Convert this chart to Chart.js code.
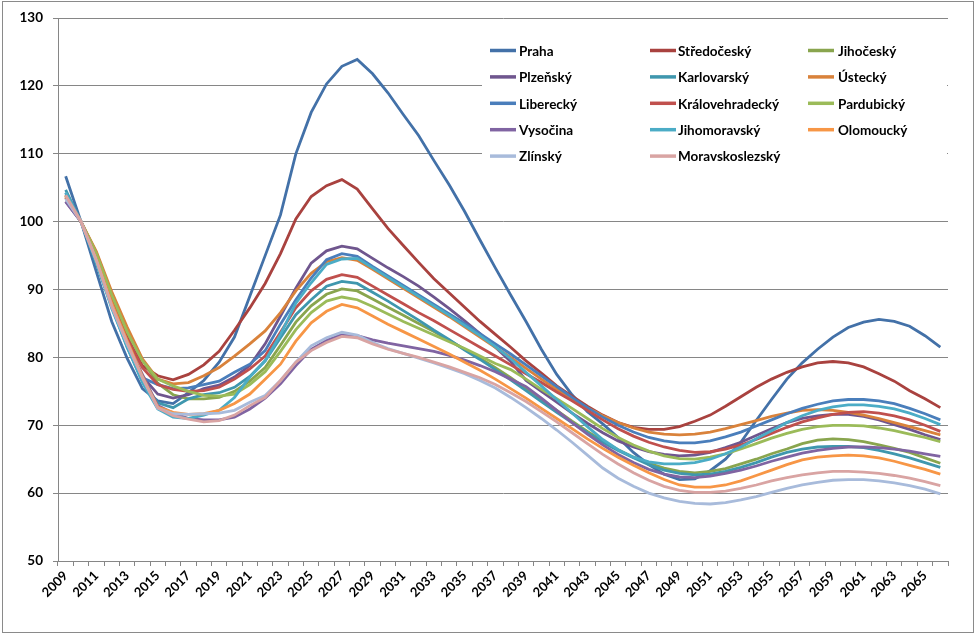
<!DOCTYPE html>
<html>
<head>
<meta charset="utf-8">
<script src="https://cdn.jsdelivr.net/npm/chart.js@4.4.1/dist/chart.umd.min.js"></script>
<style>
  html, body { margin: 0; padding: 0; background: #fff; }
  #chart { display: block; }
</style>
</head>
<body>
<canvas id="chart" width="980" height="635"></canvas>
<script>
// categories
const years = ['2009','2010','2011','2012','2013','2014','2015','2016','2017','2018',
  '2019','2020','2021','2022','2023','2024','2025','2026','2027','2028',
  '2029','2030','2031','2032','2033','2034','2035','2036','2037','2038',
  '2039','2040','2041','2042','2043','2044','2045','2046','2047','2048',
  '2049','2050','2051','2052','2053','2054','2055','2056','2057','2058',
  '2059','2060','2061','2062','2063','2064','2065','2066'];

const yTicks = [50, 60, 70, 80, 90, 100, 110, 120, 130];

// series values (2009 .. 2066)
const praha = [106.7,100,92.6,85.3,79.9,75.4,73.6,73.2,74.8,76.6,
  79.3,83.0,89.0,95.0,101.0,110.0,116.1,120.3,122.9,123.9,
  121.8,119.0,115.8,112.7,109.0,105.4,101.5,97.3,93.2,89.2,
  85.3,81.2,77.5,74.5,72.0,70.2,68.2,66.0,64.2,62.8,
  62.0,62.1,63.3,65.0,67.5,70.7,73.8,76.8,79.2,81.2,
  83.0,84.4,85.2,85.6,85.3,84.6,83.2,81.5];
const stredocesky = [103.6,100,94.8,88.5,83.0,78.8,77.3,76.7,77.5,78.9,
  80.9,84.0,87.3,90.9,95.3,100.4,103.7,105.3,106.2,104.8,
  101.9,99.0,96.5,94.0,91.6,89.5,87.4,85.3,83.4,81.5,
  79.5,77.7,75.8,74.3,72.8,71.5,70.4,69.7,69.4,69.4,
  69.8,70.6,71.5,72.8,74.2,75.6,76.8,77.8,78.6,79.2,
  79.4,79.2,78.6,77.6,76.5,75.1,73.9,72.6];
const jihocesky = [103.8,100,95.4,89.3,83.8,79.6,76.2,74.5,73.9,73.9,
  74.1,75.0,76.5,78.5,81.8,85.2,87.6,89.3,90.1,89.8,
  88.6,87.4,86.2,85.0,83.8,82.5,81.2,79.9,78.5,77.0,
  75.4,73.8,72.2,70.6,69.1,67.7,66.4,65.3,64.4,63.7,
  63.2,63.0,63.2,63.6,64.3,65.0,65.8,66.5,67.3,67.8,
  68.0,67.9,67.6,67.1,66.6,66.0,65.2,64.4];
const plzensky = [103.0,100,94.2,87.8,82.0,77.2,74.6,74.0,74.5,75.4,
  75.9,77.1,78.8,82.0,86.1,90.2,93.9,95.7,96.4,96.0,
  94.6,93.2,91.9,90.5,88.9,87.2,85.4,83.5,81.5,79.4,
  76.6,75.0,73.4,71.8,70.3,68.9,67.7,66.8,66.1,65.7,
  65.5,65.6,66.0,66.7,67.5,68.5,69.5,70.4,71.0,71.4,
  71.6,71.6,71.3,70.8,70.1,69.4,68.6,67.9];
const karlovarsky = [104.7,100,93.8,87.5,81.5,76.5,73.3,72.6,73.9,74.5,
  74.8,75.6,77.2,79.5,82.9,86.3,88.5,90.5,91.2,90.9,
  89.6,88.3,86.9,85.5,84.0,82.6,81.1,79.7,78.2,76.7,
  75.1,73.5,71.9,70.4,68.9,67.5,66.3,65.2,64.2,63.4,
  62.9,62.7,62.8,63.2,63.8,64.5,65.3,66.0,66.5,66.8,
  66.9,66.9,66.7,66.3,65.8,65.2,64.5,63.8];
const ustecky = [104.0,100,95.6,89.7,84.5,79.8,76.8,76.1,76.3,77.3,
  78.5,80.2,82.0,83.9,86.6,89.8,92.4,94.1,94.7,94.3,
  93.0,91.6,90.2,88.8,87.4,86.0,84.5,83.0,81.5,80.0,
  78.4,76.8,75.3,73.9,72.6,71.4,70.4,69.6,69.0,68.7,
  68.6,68.7,69.0,69.5,70.1,70.7,71.3,71.8,72.2,72.3,
  72.2,71.9,71.5,71.0,70.4,69.8,69.2,68.6];
const liberecky = [104.2,100,94.2,87.6,82.0,77.0,76.0,75.4,75.5,76.0,
  76.5,77.8,79.0,81.0,84.9,88.5,91.7,94.4,95.3,94.9,
  93.4,92.0,90.6,89.2,87.8,86.4,85.0,83.5,82.0,80.5,
  78.9,77.3,75.7,74.1,72.6,71.2,70.0,69.0,68.2,67.7,
  67.4,67.4,67.7,68.3,69.0,69.9,70.8,71.7,72.5,73.1,
  73.6,73.8,73.8,73.6,73.2,72.5,71.7,70.8];
const kralovehradecky = [103.6,100,94.7,88.5,82.8,78.5,76.0,75.3,75.0,75.1,
  75.6,76.8,78.3,80.2,83.7,87.3,89.8,91.5,92.2,91.8,
  90.5,89.2,87.9,86.6,85.4,84.1,82.8,81.5,80.2,78.9,
  77.6,76.3,74.9,73.6,72.2,70.8,69.5,68.4,67.5,66.8,
  66.3,66.0,66.1,66.5,67.1,67.9,68.8,69.7,70.5,71.1,
  71.6,71.9,72.0,71.8,71.4,70.8,70.0,69.1];
const pardubicky = [103.8,100,95.3,89.2,83.8,79.5,76.8,75.8,75.0,74.4,
  74.3,74.6,76.0,77.9,80.9,84.1,86.6,88.3,88.9,88.5,
  87.5,86.4,85.3,84.3,83.3,82.3,81.3,80.2,79.1,78.2,
  76.8,75.3,73.9,72.5,71.0,69.5,68.2,67.1,66.2,65.5,
  65.1,65.0,65.3,65.8,66.5,67.3,68.1,68.8,69.4,69.8,
  70.0,70.0,69.9,69.6,69.2,68.7,68.2,67.6];
const vysocina = [102.9,100,94.4,87.6,82.2,77.5,72.9,71.8,71.0,70.8,
  70.8,71.2,72.4,74.0,76.1,78.8,81.2,82.5,83.4,83.2,
  82.6,82.1,81.7,81.3,80.9,80.3,79.6,78.8,77.9,76.8,
  75.7,74.0,72.2,70.4,68.7,67.1,65.7,64.5,63.5,62.8,
  62.4,62.3,62.5,62.9,63.4,64.0,64.7,65.3,65.9,66.3,
  66.6,66.8,66.8,66.7,66.5,66.2,65.8,65.4];
const jihomoravsky = [104.3,100,94.0,87.2,81.6,76.3,72.4,71.2,71.0,71.5,
  72.2,74.1,77.1,79.5,83.4,88.0,91.0,93.7,94.5,94.6,
  93.2,91.8,90.4,89.0,87.6,86.2,84.7,83.2,81.6,79.8,
  77.8,75.8,73.8,71.8,69.8,67.9,66.4,65.3,64.6,64.3,
  64.3,64.5,65.0,65.8,66.8,68.0,69.2,70.4,71.4,72.2,
  72.7,73.0,73.0,72.8,72.4,71.8,71.0,70.1];
const olomoucky = [103.8,100,94.5,88.0,82.5,77.2,72.7,71.9,71.6,71.7,
  72.2,73.2,74.6,76.8,79.0,82.4,85.1,86.8,87.8,87.3,
  86.1,84.9,83.8,82.7,81.6,80.5,79.3,78.1,76.8,75.4,
  74.0,72.5,71.0,69.5,68.0,66.6,65.3,64.1,63.0,62.0,
  61.2,60.9,60.9,61.2,61.8,62.6,63.4,64.2,64.9,65.3,
  65.5,65.6,65.5,65.2,64.7,64.1,63.5,62.8];
const zlinsky = [103.4,100,94.3,87.5,82.0,77.0,72.5,71.7,71.6,71.7,
  71.8,72.2,73.4,74.4,76.6,79.3,81.7,82.9,83.7,83.3,
  82.2,81.3,80.6,79.9,79.2,78.4,77.6,76.6,75.5,74.1,
  72.6,71.0,69.3,67.5,65.6,63.7,62.2,61.0,60.0,59.3,
  58.8,58.5,58.4,58.6,59.0,59.5,60.1,60.7,61.2,61.6,
  61.9,62.0,62.0,61.8,61.5,61.1,60.6,59.9];
const moravskoslezsky = [103.9,100,94.3,87.6,82.2,77.0,72.6,71.4,70.9,70.5,
  70.7,71.5,72.9,74.1,76.6,79.3,81.0,82.2,83.1,82.9,
  82.0,81.2,80.6,80.0,79.3,78.6,77.8,77.0,76.0,74.8,
  73.5,72.0,70.5,68.9,67.3,65.7,64.3,63.0,61.9,61.0,
  60.4,60.1,60.1,60.3,60.7,61.2,61.8,62.3,62.7,63.0,
  63.2,63.2,63.1,62.9,62.6,62.2,61.7,61.1];

const seriesNames = ['Praha','Středočeský','Jihočeský','Plzeňský','Karlovarský','Ústecký',
  'Liberecký','Královehradecký','Pardubický','Vysočina','Jihomoravský','Olomoucký',
  'Zlínský','Moravskoslezský'];
const seriesData = [praha, stredocesky, jihocesky, plzensky, karlovarsky, ustecky,
  liberecky, kralovehradecky, pardubicky, vysocina, jihomoravsky, olomoucky,
  zlinsky, moravskoslezsky];
const seriesColors = ['#4371A8','#A9423F','#89A54E','#6F568E','#3F97AE','#D9823B',
  '#4A7EBB','#C0504D','#9BBB59','#8064A2','#4BACC6','#F79646',
  '#A8BBDB','#D9A4A3'];

const FONT = 'Lato';
const gridColor = '#868686';

// legend in a white box inside the plot, three columns like the original
const boxLegend = {
    id: 'boxLegend',
    beforeDatasetsDraw(chart) {
        const ctx = chart.ctx;
        ctx.save();
        ctx.fillStyle = '#fff';
        ctx.fillRect(482, 26, 465, 146);
        ctx.font = 'bold 13.5px ' + FONT;
        ctx.textBaseline = 'middle';
        ctx.fillStyle = '#000';
        const lineX = [490, 650, 808];
        const textX = [519, 678, 838];
        seriesNames.forEach((name, i) => {
            const col = i % 3;
            const row = Math.floor(i / 3);
            const y = 50.5 + row * 26.4;
            ctx.strokeStyle = seriesColors[i];
            ctx.lineWidth = 3.5;
            ctx.beginPath();
            ctx.moveTo(lineX[col], y);
            ctx.lineTo(lineX[col] + 26, y);
            ctx.stroke();
            ctx.fillText(name, textX[col], y + 1);
        });
        ctx.restore();
    },
    afterDraw(chart) {
        // outer chart frame
        const ctx = chart.ctx;
        ctx.save();
        ctx.strokeStyle = '#8a8a8a';
        ctx.lineWidth = 1;
        ctx.strokeRect(2.5, 1.5, 971, 631);
        ctx.restore();
    }
};

const datasets = seriesNames.map((name, i) => ({
    label: name,
    data: seriesData[i],
    borderColor: seriesColors[i],
    backgroundColor: seriesColors[i],
    borderWidth: 2.8,
    pointRadius: 0,
    tension: 0,
    fill: false,
    order: seriesNames.length - i  // later series drawn on top, as in Excel
}));

new Chart(document.getElementById('chart').getContext('2d'), {
    type: 'line',
    data: { labels: years, datasets: datasets },
    options: {
        responsive: false,
        animation: false,
        layout: { padding: { top: 15, right: 32, bottom: 0, left: 0 } },
        plugins: {
            legend: { display: false },
            tooltip: { enabled: false }
        },
        scales: {
            x: {
                offset: true,
                grid: {
                    offset: true,
                    drawOnChartArea: false,
                    tickLength: 5,
                    color: gridColor
                },
                border: { color: gridColor },
                ticks: {
                    autoSkip: false,
                    maxRotation: 45,
                    minRotation: 45,
                    padding: 2,
                    color: '#000',
                    font: { family: FONT, weight: 'bold', size: 13 },
                    callback: function(value, index) {
                        return index % 2 === 0 ? this.getLabelForValue(value) : '';
                    }
                },
                afterFit: scale => { scale.height = 74; }
            },
            y: {
                min: yTicks[0],
                max: yTicks[yTicks.length - 1],
                afterBuildTicks: scale => {
                    scale.ticks = yTicks.map(v => ({ value: v }));
                },
                grid: { color: gridColor, tickLength: 5 },
                border: { color: gridColor },
                ticks: {
                    padding: 10,
                    color: '#000',
                    font: { family: FONT, weight: 'bold', size: 13.5 }
                },
                afterFit: scale => { scale.width = 58; }
            }
        }
    },
    plugins: [boxLegend]
});
</script>
</body>
</html>
